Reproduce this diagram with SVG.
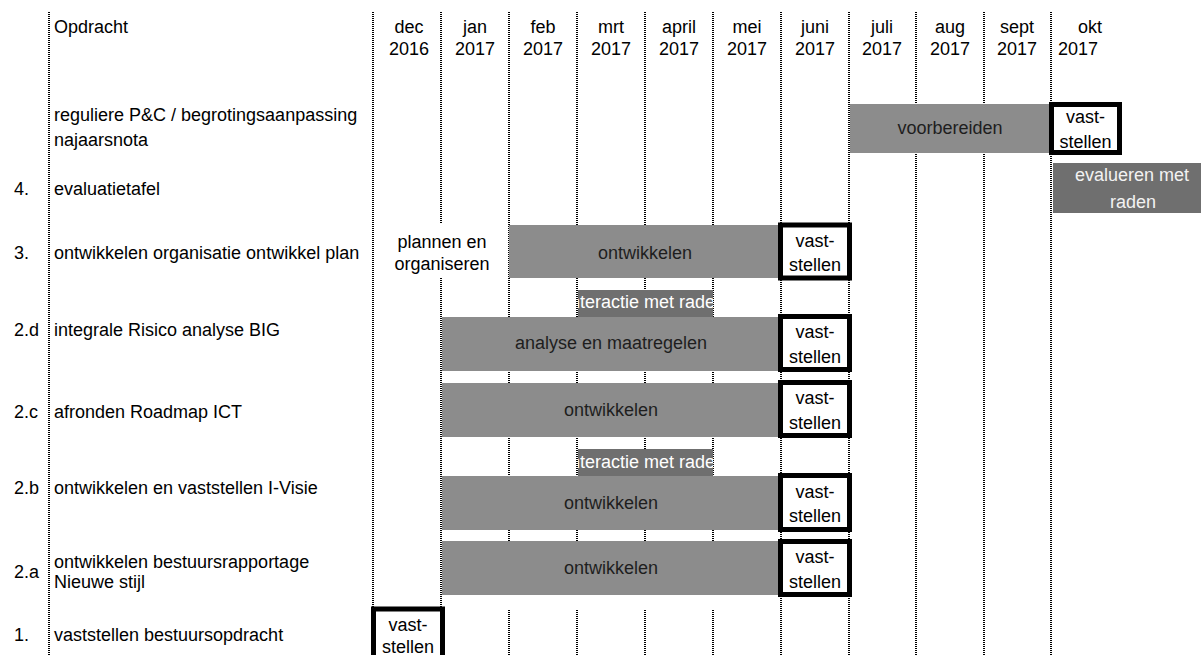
<svg xmlns="http://www.w3.org/2000/svg" width="1201" height="655" viewBox="0 0 1201 655">
<style>
text{font-family:"Liberation Sans",Arial,sans-serif;font-size:18px;fill:#000}
.c{text-anchor:middle}
.bt{fill:#1e1e1e;text-anchor:middle}
.wt{fill:#ffffff;text-anchor:middle}
.grid line{stroke:#000;stroke-width:2;stroke-dasharray:1 1}
.bar{fill:#8c8c8c}
.dark{fill:#6f6f6f}
.box{fill:#fff;stroke:#000;stroke-width:5}
</style>
<defs>
<clipPath id="clipI1"><rect x="578" y="290" width="135" height="27"/></clipPath>
<clipPath id="clipI2"><rect x="578" y="449" width="135" height="27"/></clipPath>
</defs>
<rect width="1201" height="655" fill="#fff"/>

<g id="grid" class="grid">
<line x1="49" y1="12" x2="49" y2="655"/>
<line x1="373" y1="12" x2="373" y2="655"/>
<line x1="441" y1="12" x2="441" y2="223"/>
<line x1="441" y1="278" x2="441" y2="655"/>
<line x1="509" y1="12" x2="509" y2="541"/>
<line x1="509" y1="610" x2="509" y2="655"/>
<line x1="577" y1="12" x2="577" y2="541"/>
<line x1="577" y1="610" x2="577" y2="655"/>
<line x1="645" y1="12" x2="645" y2="541"/>
<line x1="645" y1="610" x2="645" y2="655"/>
<line x1="713" y1="12" x2="713" y2="541"/>
<line x1="713" y1="610" x2="713" y2="655"/>
<line x1="781" y1="12" x2="781" y2="655"/>
<line x1="849" y1="12" x2="849" y2="655"/>
<line x1="916" y1="12" x2="916" y2="655"/>
<line x1="984" y1="12" x2="984" y2="655"/>
<line x1="1051" y1="12" x2="1051" y2="655"/>
</g>

<g id="header">
<text x="54" y="33">Opdracht</text>
<text class="c" x="409" y="33">dec</text><text class="c" x="409" y="55">2016</text>
<text class="c" x="475" y="33">jan</text><text class="c" x="475" y="55">2017</text>
<text class="c" x="543" y="33">feb</text><text class="c" x="543" y="55">2017</text>
<text class="c" x="611" y="33">mrt</text><text class="c" x="611" y="55">2017</text>
<text class="c" x="679" y="33">april</text><text class="c" x="679" y="55">2017</text>
<text class="c" x="747" y="33">mei</text><text class="c" x="747" y="55">2017</text>
<text class="c" x="815" y="33">juni</text><text class="c" x="815" y="55">2017</text>
<text class="c" x="882" y="33">juli</text><text class="c" x="882" y="55">2017</text>
<text class="c" x="950" y="33">aug</text><text class="c" x="950" y="55">2017</text>
<text class="c" x="1017" y="33">sept</text><text class="c" x="1017" y="55">2017</text>
<text x="1078" y="33">okt</text><text x="1058" y="55">2017</text>
</g>

<g id="row-pc">
<text x="54" y="121">reguliere P&amp;C / begrotingsaanpassing</text>
<text x="54" y="146">najaarsnota</text>
<rect class="bar" x="850" y="104" width="199" height="49"/>
<text class="bt" x="950" y="134">voorbereiden</text>
<rect class="box" x="1051.5" y="104.5" width="68" height="48"/>
<text class="c" x="1085.5" y="123">vast-</text>
<text class="c" x="1085.5" y="148">stellen</text>
</g>

<g id="row-4">
<text x="14" y="195">4.</text>
<text x="54" y="195">evaluatietafel</text>
<rect class="dark" x="1053" y="163" width="148" height="50"/>
<text class="wt" x="1132" y="181" style="fill:#f2f2f2">evalueren met</text>
<text class="wt" x="1133" y="208" style="fill:#f2f2f2">raden</text>
</g>

<g id="row-3">
<text x="14" y="259">3.</text>
<text x="54" y="259">ontwikkelen organisatie ontwikkel plan</text>
<text class="c" x="442" y="248">plannen en</text>
<text class="c" x="442" y="270">organiseren</text>
<rect class="bar" x="509" y="225" width="270" height="53"/>
<text class="bt" x="645" y="259">ontwikkelen</text>
<rect class="box" x="780.5" y="225" width="69" height="53"/>
<text class="c" x="815" y="247">vast-</text>
<text class="c" x="815" y="271">stellen</text>
</g>

<g id="interactie-1">
<rect class="dark" x="578" y="290" width="135" height="27"/>
<text class="wt" x="645.5" y="308" clip-path="url(#clipI1)">interactie met raden</text>
</g>

<g id="row-2d">
<text x="14" y="336">2.d</text>
<text x="54" y="336">integrale Risico analyse BIG</text>
<rect class="bar" x="442" y="317" width="337" height="54"/>
<text class="bt" x="611" y="349">analyse en maatregelen</text>
<rect class="box" x="780.5" y="316.5" width="69" height="53"/>
<text class="c" x="815" y="338">vast-</text>
<text class="c" x="815" y="363">stellen</text>
</g>

<g id="row-2c">
<text x="14" y="418">2.c</text>
<text x="54" y="418">afronden Roadmap ICT</text>
<rect class="bar" x="442" y="383" width="337" height="54"/>
<text class="bt" x="611" y="416">ontwikkelen</text>
<rect class="box" x="780.5" y="382.5" width="69" height="53"/>
<text class="c" x="815" y="404">vast-</text>
<text class="c" x="815" y="429">stellen</text>
</g>

<g id="interactie-2">
<rect class="dark" x="578" y="449" width="135" height="27"/>
<text class="wt" x="645.5" y="467.5" clip-path="url(#clipI2)">interactie met raden</text>
</g>

<g id="row-2b">
<text x="14" y="494">2.b</text>
<text x="54" y="494">ontwikkelen en vaststellen I-Visie</text>
<rect class="bar" x="442" y="476" width="337" height="54"/>
<text class="bt" x="611" y="509">ontwikkelen</text>
<rect class="box" x="780.5" y="475.5" width="69" height="54"/>
<text class="c" x="815" y="498">vast-</text>
<text class="c" x="815" y="522">stellen</text>
</g>

<g id="row-2a">
<text x="14" y="578">2.a</text>
<text x="54" y="568">ontwikkelen bestuursrapportage</text>
<text x="54" y="588">Nieuwe stijl</text>
<rect class="bar" x="442" y="541" width="337" height="54"/>
<text class="bt" x="611" y="574">ontwikkelen</text>
<rect class="box" x="780.5" y="541.5" width="69" height="53"/>
<text class="c" x="815" y="563">vast-</text>
<text class="c" x="815" y="588">stellen</text>
</g>

<g id="row-1">
<text x="14" y="641">1.</text>
<text x="54" y="641">vaststellen bestuursopdracht</text>
<rect class="box" x="373.5" y="609" width="69" height="53"/>
<text class="c" x="408" y="631">vast-</text>
<text class="c" x="408" y="653">stellen</text>
</g>
</svg>
